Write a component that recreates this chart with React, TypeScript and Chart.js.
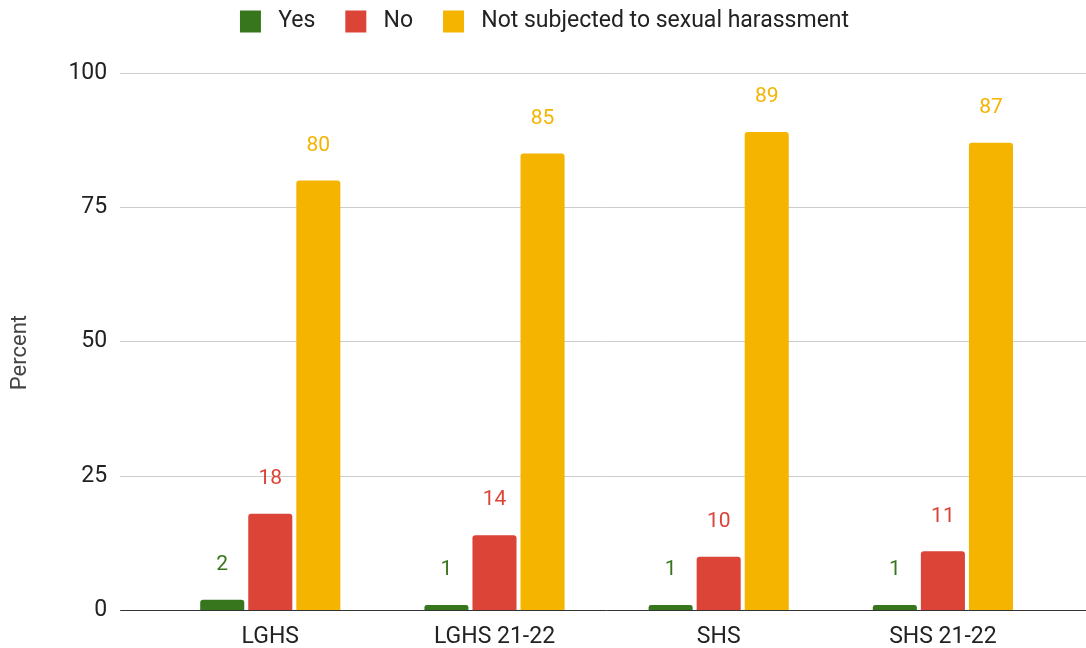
import React, { useEffect, useRef } from "react";
import { Chart, registerables } from "chart.js";

Chart.register(...registerables);

const categories = ["LGHS", "LGHS 21-22", "SHS", "SHS 21-22"];
const yesValues = [2, 1, 1, 1];
const noValues = [18, 14, 10, 11];
const notSubjectedValues = [80, 85, 89, 87];
const seriesNames = ["Yes", "No", "Not subjected to sexual harassment"];
const seriesColors = ["#38761d", "#db4437", "#f4b400"];
const yTicks = [0, 25, 50, 75, 100];
const yTitle = "Percent";

const FONT = "Roboto";

const legendMargin = {
  id: "legendMargin",
  beforeInit(chart: any) {
    const fit = chart.legend.fit;
    chart.legend.fit = function () {
      fit.bind(chart.legend)();
      this.height += 30;
    };
  },
};

const valueLabels = {
  id: "valueLabels",
  afterDatasetsDraw(chart: any) {
    const ctx = chart.ctx;
    ctx.save();
    ctx.font = `21px ${FONT}`;
    ctx.textAlign = "center";
    ctx.textBaseline = "middle";
    chart.data.datasets.forEach((ds: any, i: number) => {
      const meta = chart.getDatasetMeta(i);
      meta.data.forEach((bar: any, j: number) => {
        ctx.fillStyle = seriesColors[i];
        ctx.fillText(String(ds.data[j]), bar.x, bar.y - 35);
      });
    });
    ctx.restore();
  },
};

export default function App() {
  const canvasRef = useRef<HTMLCanvasElement | null>(null);

  useEffect(() => {
    document.body.style.margin = "0";
    const canvas = canvasRef.current;
    if (!canvas) return;
    const gridColor = (c: any) => (c.tick && c.tick.value === 0 ? "#333333" : "#cccccc");
    const chart = new Chart(canvas, {
      type: "bar",
      data: {
        labels: categories,
        datasets: [yesValues, noValues, notSubjectedValues].map((d, i) => ({
          label: seriesNames[i],
          data: d,
          backgroundColor: seriesColors[i],
          borderRadius: 3,
          categoryPercentage: 0.643,
          barPercentage: 0.917,
        })),
      },
      options: {
        responsive: false,
        animation: false,
        layout: { padding: { left: 3, right: 0, top: -20, bottom: -16 } },
        plugins: {
          legend: {
            position: "top",
            labels: {
              font: { family: FONT, size: 23 },
              color: "#222222",
              boxWidth: 21,
              boxHeight: 22,
              padding: 30,
              generateLabels: (chart: any) =>
                Chart.defaults.plugins.legend.labels
                  .generateLabels(chart)
                  .map((item: any) => ({ ...item, text: " " + item.text })),
            },
          },
          tooltip: { enabled: false },
        },
        scales: {
          x: {
            offset: true,
            grid: { display: false, drawTicks: false },
            border: { display: false },
            ticks: { font: { family: FONT, size: 23 }, color: "#222222", padding: 13 },
          },
          y: {
            min: 0,
            max: 100,
            afterBuildTicks: (s: any) => {
              s.ticks = yTicks.map((v) => ({ value: v }));
            },
            grid: { color: gridColor, tickColor: gridColor, tickLength: 38 },
            border: { display: false },
            ticks: { font: { family: FONT, size: 23 }, color: "#222222", padding: 13 },
            title: {
              display: true,
              text: yTitle + "    ",
              font: { family: FONT, size: 22 },
              color: "#444444",
              padding: { top: 4, bottom: 22 },
            },
          },
          yRight: {
            position: "right",
            min: 0,
            max: 100,
            afterBuildTicks: (s: any) => {
              s.ticks = yTicks.map((v) => ({ value: v }));
            },
            grid: { drawOnChartArea: false, color: gridColor, tickColor: gridColor, tickLength: 31 },
            border: { display: false },
            ticks: { display: false },
          },
        },
      },
      plugins: [legendMargin, valueLabels],
    } as any);
    return () => chart.destroy();
  }, []);

  return (
    <div style={{ width: 1086, height: 648 }}>
      <canvas ref={canvasRef} width={1086} height={648} style={{ display: "block" }} />
    </div>
  );
}
